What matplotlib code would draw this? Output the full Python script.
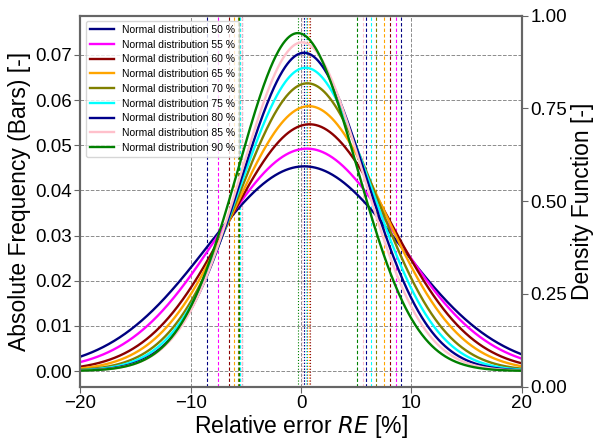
import numpy as np
import matplotlib
matplotlib.use("Agg")
import matplotlib.pyplot as plt

plt.rcParams['font.family'] = ['Liberation Sans', 'DejaVu Sans']

# fitted normal distributions
levels = [50, 55, 60, 65, 70, 75, 80, 85, 90]
means = [0.28, 0.52, 0.76, 0.70, 0.56, 0.40, 0.26, 0.08, -0.30]
sigmas = [8.80, 8.10, 7.30, 6.80, 6.26, 5.94, 5.66, 5.48, 5.33]
colors = ['navy', 'magenta', 'darkred', 'orange', 'olive', 'cyan',
          'darkblue', 'pink', 'green']

x_ticks = [-20, -10, 0, 10, 20]
left_ticks = [0.00, 0.01, 0.02, 0.03, 0.04, 0.05, 0.06, 0.07]
right_ticks = [0.00, 0.25, 0.50, 0.75, 1.00]

fig = plt.figure(figsize=(5.93, 4.40), dpi=100)
ax = fig.add_axes([0.1357, 0.1211, 0.7443, 0.8432])

xs = np.linspace(-20, 20, 801)
for lvl, mu, sd, c in zip(levels, means, sigmas, colors):
    ys = np.exp(-0.5 * ((xs - mu) / sd) ** 2) / (sd * np.sqrt(2 * np.pi))
    ax.plot(xs, ys, color=c, lw=1.7, label='Normal distribution %d %%' % lvl, zorder=3)
    ax.axvline(mu - sd, color=c, ls=(0, (3, 2)), lw=0.8, zorder=2)
    ax.axvline(mu + sd, color=c, ls=(0, (3, 2)), lw=0.8, zorder=2)
    ax.axvline(mu, color=c, ls=':', lw=0.8, zorder=2)

ax.set_xlim(-20, 20)
ax.set_ylim(-0.00348, 0.0787)
ax.set_xticks(x_ticks)
ax.set_yticks(left_ticks)
ax.set_yticklabels(['%.2f' % t for t in left_ticks])
ax.grid(True, color='0.55', ls='--', lw=0.7, zorder=0)
ax.set_axisbelow(True)
ax.tick_params(labelsize=13.5, length=4, color='0.4', pad=2)
ax.set_xlabel('Relative error $\\mathit{RE}$ [%]', fontsize=16.5, labelpad=1)
ax.set_ylabel('Absolute Frequency (Bars) [-]', fontsize=16.5, labelpad=3)

ax2 = ax.twinx()
ax2.set_ylim(0, 1)
ax2.set_yticks(right_ticks)
ax2.set_yticklabels(['%.2f' % t for t in right_ticks])
ax2.tick_params(labelsize=13.5, length=4, color='0.4', pad=2)
ax2.set_ylabel('Density Function [-]', fontsize=16.5, labelpad=3)

for a in (ax, ax2):
    for s in a.spines.values():
        s.set_color('0.4')
        s.set_linewidth(1.5)

ax.legend(loc='upper left', fontsize=7.5, frameon=True, edgecolor='0.8',
          handlelength=2.3, labelspacing=0.45, borderaxespad=0.5)

fig.savefig('out.png', dpi=100)
